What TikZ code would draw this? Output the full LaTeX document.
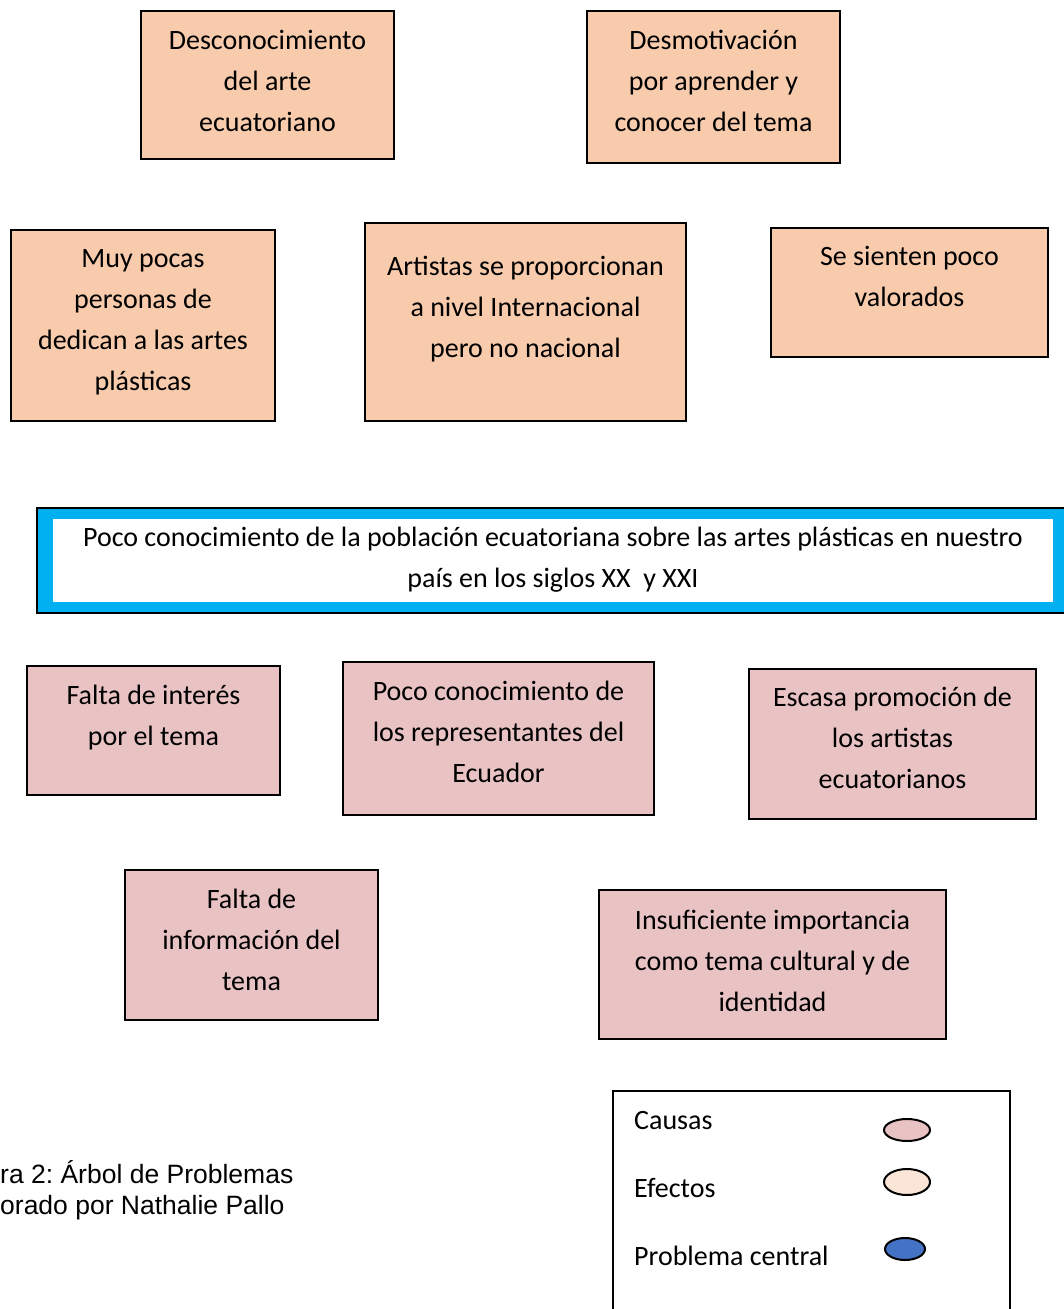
\documentclass[tikz,border=0pt]{standalone}
\usepackage{fontspec}
\setmainfont{Carlito}
\newfontfamily\captionfont{Liberation Sans}
\frenchspacing
\definecolor{effectfill}{RGB}{248,203,173}
\definecolor{causefill}{RGB}{233,195,196}
\definecolor{centralblue}{RGB}{0,176,240}
\definecolor{legendblue}{RGB}{68,114,196}
\definecolor{legendpeach}{RGB}{251,229,214}
\usetikzlibrary{positioning}

\begin{document}
\begin{tikzpicture}[x=1pt,y=-1pt,
		effect/.style={draw,line width=2pt,fill=effectfill},
		cause/.style={draw,line width=2pt,fill=causefill},
		txt/.style={anchor=base,align=center,inner sep=0pt,
			font=\fontsize{28}{41}\selectfont},
		legendtxt/.style={anchor=base west,inner sep=0pt,
			font=\fontsize{28}{41}\selectfont},
		legendmark/.style={draw,line width=2pt}]
		\useasboundingbox (0,0) rectangle (1064,1309);

		% effects
		\draw[effect] (141,11) rectangle (394,159);
		\draw[effect] (587,11) rectangle (840,163);
		\draw[effect] (11,230) rectangle (275,421);
		\draw[effect] (365,223) rectangle (686,421);
		\draw[effect] (771,228) rectangle (1048,357);
		\node[txt] (desc) at (267.5,131) {Desconocimiento\\del arte\\ecuatoriano};
		\node[txt] (desmot) at (713.5,131) {Desmotivación\\por aprender y\\conocer del tema};
		\node[txt] (pocas) at (143,390) {Muy pocas\\personas de\\dedican a las artes\\plásticas};
		\node[txt] (artistas) at (525.5,357) {Artistas se proporcionan\\a nivel Internacional\\pero no nacional};
		\node[txt] (sienten) at (909.5,306) {Se sienten poco\\valorados};

		% central problem
		\draw[line width=2pt,fill=centralblue] (37,508) rectangle (1075,613);
		\fill[white] (53,518.5) rectangle (1053,602);
		\node[txt] (problema) at (553,587) {Poco conocimiento de la población ecuatoriana sobre las artes plásticas en nuestro\\país en los siglos XX\ \ y XXI};

		% causes
		\draw[cause] (27,666) rectangle (280,795);
		\draw[cause] (343,662) rectangle (654,815);
		\draw[cause] (749,669) rectangle (1036,819);
		\draw[cause] (125,870) rectangle (378,1020);
		\draw[cause] (599,890) rectangle (946,1039);
		\node[txt] (interes) at (153.5,745) {Falta de interés\\por el tema};
		\node[txt] (representantes) at (498.5,782) {Poco conocimiento de\\los representantes del\\Ecuador};
		\node[txt] (promocion) at (892.5,788) {Escasa promoción de\\los artistas\\ecuatorianos};
		\node[txt] (informacion) at (251.5,990) {Falta de\\información del\\tema};
		\node[txt] (importancia) at (772.5,1011) {Insuficiente importancia\\como tema cultural y de\\identidad};

		% caption
		\node[anchor=north west,inner sep=0pt,align=left,
			font=\captionfont\fontsize{26.5}{31}\selectfont] (caption) at (0,1160)
			{ra 2: Árbol de Problemas\\orado por Nathalie Pallo};

		% legend
		\draw[line width=1.5pt] (613,1320) -- (613,1091) -- (1010,1091) -- (1010,1320);
		\node[legendtxt] (causas) at (634,1129) {Causas};
		\node[legendtxt] (efectos) at (634,1197) {Efectos};
		\node[legendtxt] (central) at (634,1265) {Problema central};
		\draw[legendmark,fill=causefill] (907,1130) ellipse [x radius=23,y radius=11];
		\draw[legendmark,fill=legendpeach] (907,1182) ellipse [x radius=23,y radius=13];
		\draw[legendmark,fill=legendblue] (905,1249) ellipse [x radius=20,y radius=11];
	\end{tikzpicture}
\end{document}
